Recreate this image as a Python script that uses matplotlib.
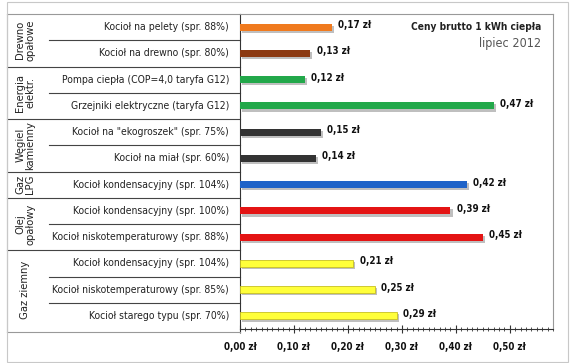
import matplotlib
matplotlib.use('Agg')
import matplotlib.pyplot as plt
import matplotlib.patheffects as pe
from matplotlib.ticker import MultipleLocator, FuncFormatter

plt.rcParams['font.family'] = ['DejaVu Sans']
plt.rcParams['font.stretch'] = 'condensed'

# data, top to bottom
labels = ['Kocioł na pelety (spr. 88%)', 'Kocioł na drewno (spr. 80%)',
          'Pompa ciepła (COP=4,0 taryfa G12)', 'Grzejniki elektryczne (taryfa G12)',
          'Kocioł na "ekogroszek" (spr. 75%)', 'Kocioł na miał (spr. 60%)',
          'Kocioł kondensacyjny (spr. 104%)',
          'Kocioł kondensacyjny (spr. 100%)', 'Kocioł niskotemperaturowy (spr. 88%)',
          'Kocioł kondensacyjny (spr. 104%)', 'Kocioł niskotemperaturowy (spr. 85%)',
          'Kocioł starego typu (spr. 70%)']
values = [0.17, 0.13, 0.12, 0.47, 0.15, 0.14, 0.42, 0.39, 0.45, 0.21, 0.25, 0.29]
groups = ['Drewno\nopałowe', 'Energia\nelektr.', 'Węgiel\nkamienny', 'Gaz\nLPG',
          'Olej\nopałowy', 'Gaz ziemny']
group_sizes = [2, 2, 2, 1, 2, 3]
colors = ['#f07a1e', '#8c3a12', '#22a84a', '#22a84a', '#333333', '#333333',
          '#1f63c8', '#e41414', '#e41414', '#ffff3a', '#ffff3a', '#ffff3a']
edges = ['none'] * 9 + ['#c8c020'] * 3
xticks = [0.0, 0.1, 0.2, 0.3, 0.4, 0.5]

fig = plt.figure(figsize=(5.7, 3.63), dpi=100)
ax = fig.add_axes([240 / 570, 1 - 329 / 363, 313 / 570, 315 / 363])

y = list(range(len(values)))
shadow = [pe.SimplePatchShadow(offset=(1.5, -1.5), shadow_rgbFace='#b0b0b0', alpha=0.8), pe.Normal()]
bars = ax.barh(y, values, height=0.27, color=colors, edgecolor=edges, linewidth=0.6, zorder=3)
for b in bars:
    b.set_path_effects(shadow)
for yi, v in zip(y, values):
    ax.text(v + 0.012, yi - 0.08, f'{v:.2f}'.replace('.', ',') + ' zł', fontsize=7,
            fontweight='bold', va='center', ha='left', color='#111111')

ax.set_xlim(0, 0.58)
ax.set_ylim(len(values) - 0.5, -0.5)
ax.set_yticks([])
ax.set_xticks(xticks)
ax.xaxis.set_major_formatter(FuncFormatter(lambda v, p: f'{v:.2f}'.replace('.', ',') + ' zł'))
ax.xaxis.set_minor_locator(MultipleLocator(0.01))
ax.tick_params(axis='x', which='major', direction='inout', length=6, width=0.8,
               labelsize=7, pad=6, colors='#333333')
ax.tick_params(axis='x', which='minor', direction='inout', length=3, width=0.6, color='#333333')
for lab in ax.get_xticklabels():
    lab.set_fontweight('bold')
    lab.set_color('#111111')

for s in ['top', 'right']:
    ax.spines[s].set_color('#999999')
ax.spines['left'].set_color('#333333')
ax.spines['bottom'].set_color('#333333')

# table on the left
tr = ax.get_yaxis_transform()
x_out, x_in, x_txt, x_grp = -0.744, -0.610, -0.035, -0.686
for yi, lab in zip(y, labels):
    ax.text(x_txt, yi, lab, transform=tr, ha='right', va='center', fontsize=7.5, color='#222222')

start = 0
for g, n in zip(groups, group_sizes):
    mid = start + (n - 1) / 2
    ax.text(x_grp, mid, g, transform=tr, rotation=90, ha='center', va='center',
            fontsize=8, color='#222222', linespacing=1.0)
    for k in range(1, n):
        ax.plot([x_in, 0], [start + k - 0.5] * 2, transform=tr, color='#444444', lw=0.8, clip_on=False)
    if start > 0:
        ax.plot([x_out, 0], [start - 0.5] * 2, transform=tr, color='#444444', lw=0.8, clip_on=False)
    start += n
ax.plot([x_out, 0], [-0.5, -0.5], transform=tr, color='#999999', lw=0.8, clip_on=False)
ax.plot([x_out, 0], [len(values) - 0.4] * 2, transform=tr, color='#999999', lw=0.8, clip_on=False)
ax.plot([x_out, x_out], [-0.5, len(values) - 0.4], transform=tr, color='#999999', lw=0.8, clip_on=False)

# title
fig.text(541 / 570, 1 - 27 / 363, 'Ceny brutto 1 kWh ciepła', ha='right', va='center',
         fontsize=7.3, fontweight='bold', color='#222222')
fig.text(541 / 570, 1 - 44 / 363, 'lipiec 2012', ha='right', va='center',
         fontsize=9, color='#555555')

# outer frame
fig.add_artist(plt.Rectangle((7 / 570, 1 / 363), 561 / 570, 360 / 363, transform=fig.transFigure,
                             fill=False, edgecolor='#c8c8c8', lw=0.8))

fig.savefig('out.png', dpi=100)
